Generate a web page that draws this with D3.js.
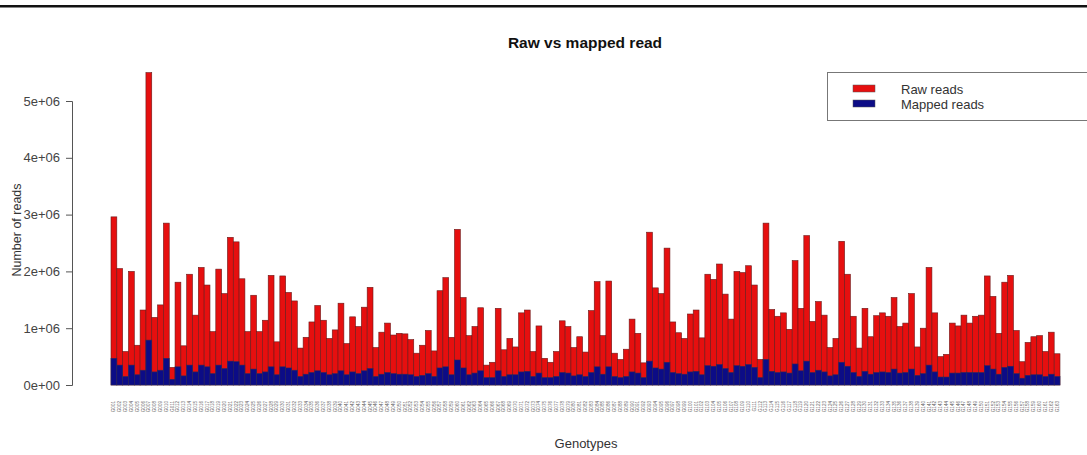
<!DOCTYPE html>
<html>
<head>
<meta charset="utf-8">
<script src="https://cdn.jsdelivr.net/npm/d3@7"></script>
<style>
  html, body { margin: 0; padding: 0; background: #fff; }
  svg { display: block; font-family: "Liberation Sans", Arial, sans-serif; }
</style>
</head>
<body>
<svg id="chart"></svg>
<script>
// Raw vs mapped reads per genotype (values in millions)
const RAW_READS = [
  2.96, 2.05, 0.59, 2.00, 0.70, 1.32, 5.50, 1.19, 1.41, 2.85,
  0.31, 1.81, 0.69, 1.95, 1.23, 2.07, 1.76, 0.94, 2.04, 1.61,
  2.60, 2.52, 1.87, 0.94, 1.58, 0.94, 1.14, 1.93,
  0.76, 1.92, 1.63, 1.48, 0.65, 0.84, 1.11, 1.40, 1.14, 0.82,
  0.97, 1.44, 0.73, 1.20, 1.03, 1.37, 1.72, 0.66, 0.93, 1.09,
  0.88, 0.91, 0.90, 0.80, 0.56, 0.70, 0.96,
  0.60, 1.66, 1.89, 0.84, 2.74, 1.54, 0.87, 1.03, 1.36, 0.35,
  0.40, 1.35, 0.62, 0.82, 0.67, 1.27, 1.32, 0.59, 1.04, 0.47,
  0.40, 0.59, 1.13, 1.03, 0.66, 0.85, 0.58,
  1.31, 1.82, 0.87, 1.83, 0.56, 0.45, 0.63, 1.16, 0.91, 0.39,
  2.69, 1.71, 1.61, 2.41, 1.11, 0.92, 0.82, 1.25, 1.32, 0.83,
  1.95, 1.86, 2.13, 1.60, 1.16, 2.00, 1.98, 2.10,
  1.76, 0.45, 2.85, 1.33, 1.21, 1.27, 0.98, 2.19, 1.35, 2.63,
  1.12, 1.47, 1.23, 0.66, 0.82, 2.53, 1.95, 1.21, 0.65, 1.35,
  0.85, 1.22, 1.27, 1.21, 1.54, 1.03, 1.09,
  1.61, 0.67, 1.00, 2.07, 1.27, 0.50, 0.54, 1.09, 1.04, 1.23,
  1.09, 1.21, 1.23, 1.92, 1.56, 0.91, 1.81, 1.93, 0.96, 0.41,
  0.75, 0.85, 0.87, 0.59, 0.93, 0.55
];

const MAPPED_READS = [
  0.47, 0.35, 0.15, 0.35, 0.18, 0.26, 0.79, 0.23, 0.26, 0.47,
  0.10, 0.32, 0.16, 0.35, 0.23, 0.35, 0.32, 0.20, 0.35, 0.29,
  0.42, 0.41, 0.35, 0.20, 0.28, 0.20, 0.23, 0.32,
  0.18, 0.32, 0.30, 0.26, 0.15, 0.19, 0.22, 0.25, 0.22, 0.18,
  0.20, 0.25, 0.18, 0.23, 0.20, 0.25, 0.29, 0.15, 0.19, 0.22,
  0.20, 0.19, 0.19, 0.18, 0.15, 0.17, 0.20,
  0.15, 0.30, 0.32, 0.18, 0.44, 0.30, 0.18, 0.21, 0.25, 0.13,
  0.13, 0.25, 0.15, 0.18, 0.18, 0.23, 0.24, 0.15, 0.21, 0.13,
  0.13, 0.15, 0.22, 0.21, 0.16, 0.18, 0.15,
  0.22, 0.32, 0.19, 0.32, 0.15, 0.13, 0.15, 0.23, 0.21, 0.13,
  0.42, 0.30, 0.28, 0.40, 0.22, 0.20, 0.19, 0.23, 0.24, 0.18,
  0.34, 0.33, 0.36, 0.29, 0.22, 0.34, 0.33, 0.36,
  0.31, 0.13, 0.45, 0.24, 0.22, 0.23, 0.21, 0.37, 0.25, 0.42,
  0.22, 0.26, 0.23, 0.16, 0.18, 0.40, 0.33, 0.22, 0.15, 0.24,
  0.19, 0.22, 0.23, 0.22, 0.28, 0.21, 0.22,
  0.28, 0.17, 0.20, 0.35, 0.23, 0.14, 0.14, 0.21, 0.21, 0.22,
  0.22, 0.22, 0.22, 0.34, 0.28, 0.19, 0.31, 0.33, 0.20, 0.12,
  0.17, 0.18, 0.18, 0.15, 0.19, 0.15
];

// genotype ids — the real names are unreadable in the source image
const GENOTYPES = RAW_READS.map((_, i) => 'G' + String(i + 1).padStart(3, '0'));

const Y_TICKS = [0, 1e6, 2e6, 3e6, 4e6, 5e6];
const SERIES = ['Raw reads', 'Mapped reads'];
const COLORS = { 'Raw reads': '#e60f0f', 'Mapped reads': '#0c0c86' };

const W = 1087, H = 455;
const svg = d3.select('#chart').attr('width', W).attr('height', H);

// thin black rule along the top of the figure
svg.append('rect').attr('x', 0).attr('y', 5).attr('width', W).attr('height', 2.5).attr('fill', '#111');

const x = d3.scaleBand().domain(GENOTYPES).range([111, 1060]).padding(0);
const y = d3.scaleLinear().domain([0, 5e6]).range([385, 101]);

// ── bars: raw first, mapped overlaid on top ──────────────────────────────
const barG = svg.append('g');
barG.selectAll('rect.raw')
  .data(GENOTYPES)
  .join('rect')
  .attr('class', 'raw')
  .attr('x', d => x(d))
  .attr('width', x.bandwidth())
  .attr('y', (d, i) => y(RAW_READS[i] * 1e6))
  .attr('height', (d, i) => y(0) - y(RAW_READS[i] * 1e6))
  .attr('fill', COLORS['Raw reads'])
  .attr('stroke', '#6a1a1a')
  .attr('stroke-width', 0.6);

barG.selectAll('rect.mapped')
  .data(GENOTYPES)
  .join('rect')
  .attr('class', 'mapped')
  .attr('x', d => x(d))
  .attr('width', x.bandwidth())
  .attr('y', (d, i) => y(MAPPED_READS[i] * 1e6))
  .attr('height', (d, i) => y(0) - y(MAPPED_READS[i] * 1e6))
  .attr('fill', COLORS['Mapped reads'])
  .attr('stroke', '#2a2a5a')
  .attr('stroke-width', 0.6);

// ── y axis (R style: line spans ticks only) ──────────────────────────────
const fmt = v => v === 0 ? '0e+00' : (v / 1e6) + 'e+06';
const yAxis = svg.append('g')
  .attr('transform', 'translate(72,0)')
  .call(d3.axisLeft(y).tickValues(Y_TICKS).tickFormat(fmt).tickSizeOuter(0).tickSize(6).tickPadding(6));
yAxis.select('.domain').attr('stroke', '#555');
yAxis.selectAll('.tick line').attr('stroke', '#555');
yAxis.selectAll('.tick text').attr('fill', '#444').attr('font-size', 13)
  .attr('font-family', '"Liberation Sans", Arial, sans-serif');

// ── genotype labels (tiny, vertical, like las=2) ─────────────────────────
svg.append('g').selectAll('text')
  .data(GENOTYPES)
  .join('text')
  .attr('transform', d => `translate(${x(d) + x.bandwidth() / 2 + 1.5},401) rotate(-90)`)
  .attr('text-anchor', 'end')
  .attr('font-size', 4.6)
  .attr('fill', '#666')
  .text(d => d);

// ── titles ──────────────────────────────────────────────────────────────
svg.append('text')
  .attr('x', 585).attr('y', 48)
  .attr('text-anchor', 'middle')
  .attr('font-size', 15.5).attr('font-weight', 'bold').attr('fill', '#111')
  .text('Raw vs mapped read');

svg.append('text')
  .attr('x', 586).attr('y', 448)
  .attr('text-anchor', 'middle')
  .attr('font-size', 13).attr('fill', '#333')
  .text('Genotypes');

svg.append('text')
  .attr('transform', 'translate(21,230) rotate(-90)')
  .attr('text-anchor', 'middle')
  .attr('font-size', 12.5).attr('fill', '#333')
  .text('Number of reads');

// ── legend ──────────────────────────────────────────────────────────────
const leg = svg.append('g');
leg.append('rect')
  .attr('x', 827.5).attr('y', 72.5).attr('width', 270).attr('height', 48)
  .attr('fill', '#fff').attr('stroke', '#777');
SERIES.forEach((s, i) => {
  leg.append('rect')
    .attr('x', 853).attr('y', 85 + i * 15).attr('width', 22).attr('height', 7)
    .attr('fill', COLORS[s]).attr('stroke', '#555').attr('stroke-width', 0.5);
  leg.append('text')
    .attr('x', 901).attr('y', 93.5 + i * 15)
    .attr('font-size', 13).attr('fill', '#333')
    .text(s);
});
</script>
</body>
</html>
